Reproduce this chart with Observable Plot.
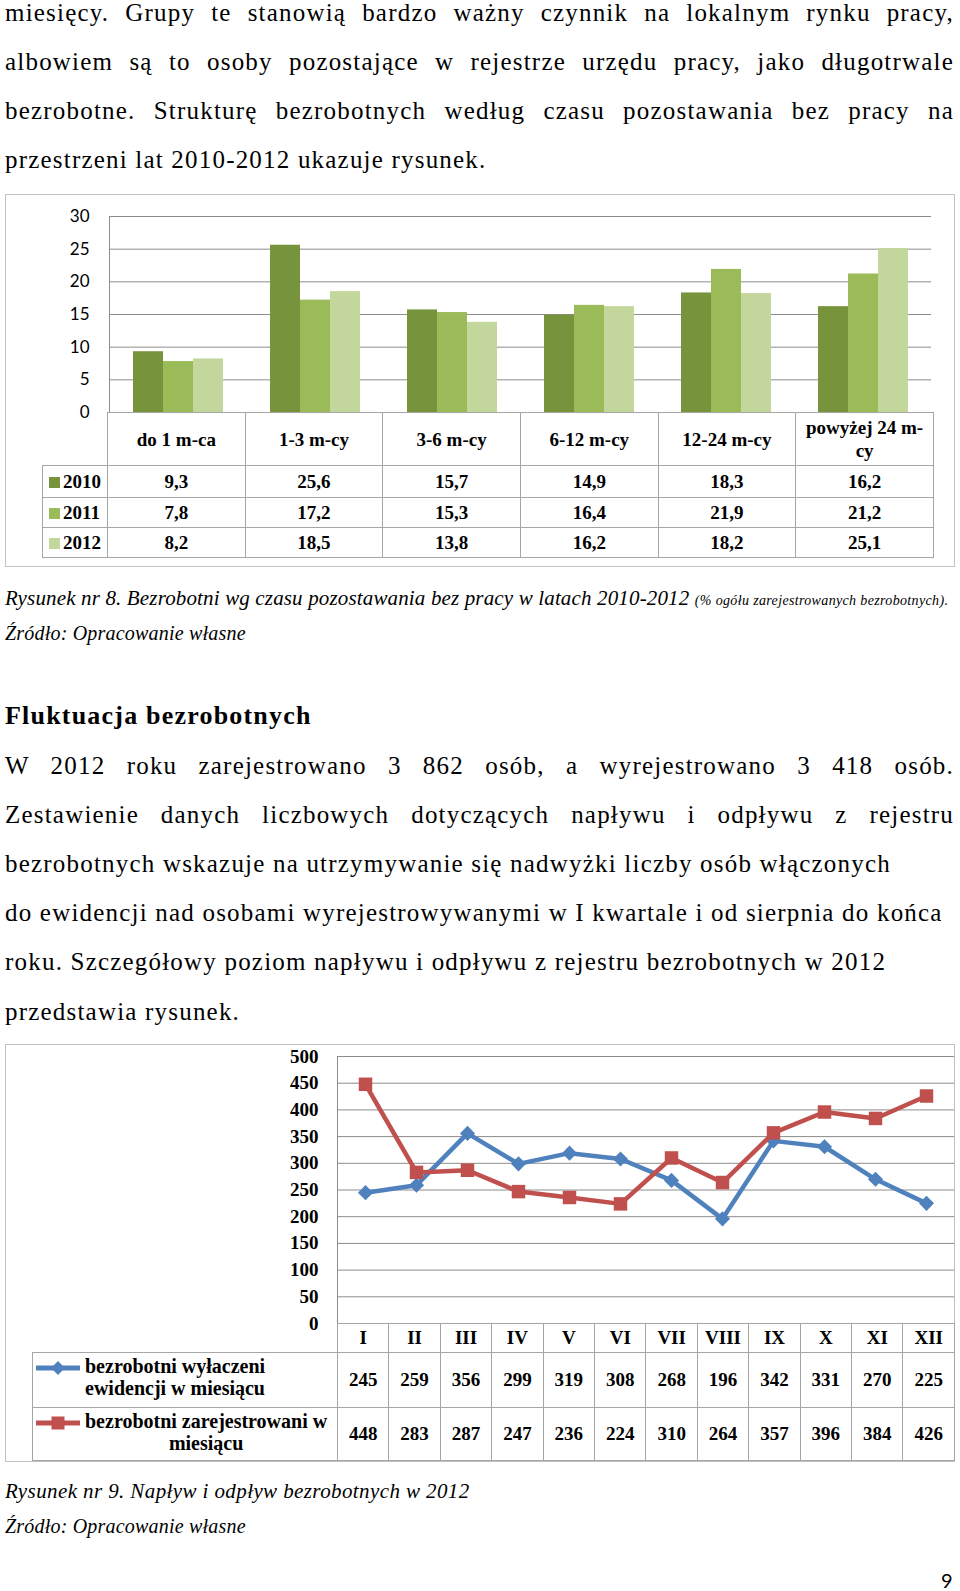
<!DOCTYPE html>
<html><head><meta charset="utf-8">
<script src="https://cdn.jsdelivr.net/npm/d3@7"></script>
<script src="https://cdn.jsdelivr.net/npm/@observablehq/plot@0.6"></script>
<style>
html,body{margin:0;padding:0;background:#fff;}
#page{position:relative;width:960px;height:1591px;overflow:hidden;background:#fff;color:#000;}
.t{position:absolute;white-space:nowrap;font-family:"Liberation Serif",serif;color:#000;}
.j{text-align:justify;text-align-last:justify;white-space:normal;}
.box{position:absolute;border:1.5px solid #c0c0c0;box-sizing:border-box;}
table.dt{position:absolute;border-collapse:collapse;font-family:"Liberation Serif",serif;font-weight:bold;table-layout:fixed;color:#000;}
table.dt td{border:1px solid #a6a6a6;text-align:center;vertical-align:middle;padding:0;overflow:hidden;}
table.dt td.blank{border:none;}
</style></head><body><div id="page"></div>
<script>
// ---------- DATA ----------
const categories = ["do 1 m-ca", "1-3 m-cy", "3-6 m-cy", "6-12 m-cy", "12-24 m-cy", "powyżej 24 m-cy"];
const years = ["2010", "2011", "2012"];
const values2010 = [9.3, 25.6, 15.7, 14.9, 18.3, 16.2];
const values2011 = [7.8, 17.2, 15.3, 16.4, 21.9, 21.2];
const values2012 = [8.2, 18.5, 13.8, 16.2, 18.2, 25.1];
const yearColors = ["#77933C", "#9BBB59", "#C3D69B"];
const yTicks1 = [0, 5, 10, 15, 20, 25, 30];

const months = ["I", "II", "III", "IV", "V", "VI", "VII", "VIII", "IX", "X", "XI", "XII"];
const outflow = [245, 259, 356, 299, 319, 308, 268, 196, 342, 331, 270, 225];
const inflow = [448, 283, 287, 247, 236, 224, 310, 264, 357, 396, 384, 426];
const seriesLabels = [["bezrobotni wyłaczeni", "ewidencji w miesiącu"], ["bezrobotni zarejestrowani w", "miesiącu"]];
const seriesColors = ["#4F81BD", "#C0504D"];
const yTicks2 = [0, 50, 100, 150, 200, 250, 300, 350, 400, 450, 500];

// ---------- PAGE TEXT ----------
const page = document.getElementById("page");
function addLine(text, o) {
  const size = o.size || 25;
  const d = document.createElement("div");
  d.className = "t" + (o.j ? " j" : "");
  d.style.left = (o.x ?? 5) + "px";
  d.style.fontSize = size + "px";
  d.style.lineHeight = size + "px";
  d.style.top = (o.b - 0.8375 * size) + "px";
  d.style.letterSpacing = (o.ls ?? 1.2) + "px";
  if (o.w) d.style.width = o.w + "px";
  if (o.j) d.style.width = (o.w || 949) + "px";
  if (o.style) Object.assign(d.style, o.style);
  if (o.html) d.innerHTML = text; else d.textContent = text;
  page.appendChild(d);
  return d;
}
const bodyLines = [
  ["miesięcy. Grupy te stanowią bardzo ważny czynnik na lokalnym rynku pracy,", 21, true],
  ["albowiem są to osoby pozostające w rejestrze urzędu pracy, jako długotrwale", 70, true],
  ["bezrobotne. Strukturę bezrobotnych według czasu pozostawania bez pracy na", 119, true],
  ["przestrzeni lat 2010-2012 ukazuje rysunek.", 168, false],
  ["W 2012 roku zarejestrowano 3 862 osób, a wyrejestrowano 3 418 osób.", 774, true],
  ["Zestawienie danych liczbowych dotyczących napływu i odpływu z rejestru", 823, true],
  ["bezrobotnych wskazuje na utrzymywanie się nadwyżki liczby osób włączonych", 872, false],
  ["do ewidencji nad osobami wyrejestrowywanymi w I kwartale i od sierpnia do końca", 921, false],
  ["roku. Szczegółowy poziom napływu i odpływu z rejestru bezrobotnych w 2012", 970, false],
  ["przedstawia rysunek.", 1020, false]
];
bodyLines.forEach(([t, b, j]) => addLine(t, {b, j}));
addLine("Fluktuacja bezrobotnych", {b: 725, size: 26, ls: 1.2, style: {fontWeight: "bold"}});
addLine('Rysunek nr 8. Bezrobotni wg czasu pozostawania bez pracy w latach 2010-2012 <span style="font-size:14px;letter-spacing:0.35px">(% ogółu zarejestrowanych bezrobotnych).</span>',
  {b: 606, size: 21, ls: 0.15, html: true, style: {fontStyle: "italic"}});
addLine("Źródło: Opracowanie własne", {b: 640, size: 20, ls: 0.2, style: {fontStyle: "italic"}});
addLine("Rysunek nr 9. Napływ i odpływ bezrobotnych w 2012", {b: 1499, size: 21, ls: 0.4, style: {fontStyle: "italic"}});
addLine("Źródło: Opracowanie własne", {b: 1533, size: 20, ls: 0.2, style: {fontStyle: "italic"}});
const pn = addLine("9", {b: 1588, x: 941, size: 20, ls: 0, style: {fontFamily: "Lato, sans-serif"}});
pn.style.top = (1588 - 0.887 * 20) + "px";

// ---------- CHART 1 ----------
const box1 = {left: 5, top: 194, width: 950, height: 373};
const b1 = document.createElement("div");
b1.className = "box";
Object.assign(b1.style, {left: box1.left + "px", top: box1.top + "px", width: box1.width + "px", height: box1.height + "px"});
page.appendChild(b1);

const seriesByYear = [values2010, values2011, values2012];
const rows1 = [];
years.forEach((yr, i) => categories.forEach((c, j) => rows1.push({cat: c, year: yr, value: seriesByYear[i][j]})));

const chart1 = Plot.plot({
  width: 950, height: 220,
  marginLeft: 102, marginRight: 22, marginTop: 22, marginBottom: 2,
  fx: {domain: categories, padding: 0, axis: null, label: null},
  x: {domain: years, paddingInner: 0, paddingOuter: 0.76, axis: null},
  y: {domain: [0, 30], axis: null},
  color: {domain: years, range: yearColors},
  style: {fontFamily: "Lato, sans-serif", fontSize: "17px", color: "#000", background: "transparent", overflow: "visible"},
  marks: [
    Plot.ruleY(yTicks1, {y: d => d, stroke: "#8c8c8c", strokeWidth: 1}),
    Plot.frame({anchor: "left", facetAnchor: "left", stroke: "#8c8c8c", strokeWidth: 1}),
    Plot.barY(rows1, {fx: "cat", x: "year", y: "value", fill: "year"}),
    Plot.axisY(yTicks1, {tickSize: 0, tickPadding: 20, label: null, fontSize: 17, fill: "#000"})
  ]
});
chart1.style.position = "absolute";
chart1.style.left = box1.left + "px";
chart1.style.top = box1.top + "px";
page.appendChild(chart1);

// table under chart 1, columns taken from the fx scale
const fx1 = chart1.scale("fx");
const r1 = (fx1 && fx1.range) ? fx1.range : [102, 928];
const bw1 = (r1[1] - r1[0]) / categories.length;
const legW1 = 65;
const t1 = document.createElement("table");
t1.className = "dt";
t1.style.left = (box1.left + r1[0] - legW1) + "px";
t1.style.top = (box1.top + 218) + "px";
t1.style.width = (legW1 + bw1 * categories.length) + "px";
let h1 = `<colgroup><col style="width:${legW1}px">` + categories.map(() => `<col style="width:${bw1}px">`).join("") + `</colgroup>`;
h1 += `<tr style="height:53px"><td class="blank"></td>` + categories.map(c => `<td style="font-size:19px;line-height:23px;padding:0 7px">${c}</td>`).join("") + `</tr>`;
years.forEach((yr, i) => {
  h1 += `<tr style="height:${i === 0 ? 32 : 30}px"><td style="text-align:left;padding-left:6px;font-size:19px;white-space:nowrap"><span style="display:inline-block;width:11px;height:11px;background:${yearColors[i]};margin-right:3px;vertical-align:0px"></span>${yr}</td>` +
    seriesByYear[i].map(v => `<td style="font-size:19px">${v.toFixed(1).replace(".", ",")}</td>`).join("") + `</tr>`;
});
t1.innerHTML = h1;
page.appendChild(t1);

// ---------- CHART 2 ----------
const box2 = {left: 5, top: 1044, width: 950, height: 418};
const b2 = document.createElement("div");
b2.className = "box";
Object.assign(b2.style, {left: box2.left + "px", top: box2.top + "px", width: box2.width + "px", height: box2.height + "px"});
page.appendChild(b2);

const rowsOut = months.map((m, i) => ({m, v: outflow[i]}));
const rowsIn = months.map((m, i) => ({m, v: inflow[i]}));
const chart2 = Plot.plot({
  width: 950, height: 281,
  marginLeft: 332, marginRight: 1, marginTop: 12, marginBottom: 2,
  x: {type: "point", domain: months, padding: 0.5, axis: null},
  y: {domain: [0, 500], axis: null},
  style: {fontFamily: "'Liberation Serif', serif", fontSize: "19px", fontWeight: "bold", color: "#000", background: "transparent", overflow: "visible"},
  marks: [
    Plot.ruleY(yTicks2, {y: d => d, stroke: "#8c8c8c", strokeWidth: 1}),
    Plot.frame({anchor: "left", stroke: "#8c8c8c", strokeWidth: 1}),
    Plot.line(rowsOut, {x: "m", y: "v", stroke: seriesColors[0], strokeWidth: 4.5, strokeLinejoin: "round"}),
    Plot.dot(rowsOut, {x: "m", y: "v", symbol: "diamond2", r: 6.8, fill: seriesColors[0], stroke: "none"}),
    Plot.line(rowsIn, {x: "m", y: "v", stroke: seriesColors[1], strokeWidth: 4.5, strokeLinejoin: "round"}),
    Plot.dot(rowsIn, {x: "m", y: "v", symbol: "square", r: 7.6, fill: seriesColors[1], stroke: "none"}),
    Plot.axisY(yTicks2, {tickSize: 0, tickPadding: 19, label: null, fontSize: 19, fontWeight: "bold", fill: "#000"})
  ]
});
chart2.style.position = "absolute";
chart2.style.left = box2.left + "px";
chart2.style.top = box2.top + "px";
page.appendChild(chart2);

const x2 = chart2.scale("x");
const r2 = (x2 && x2.range) ? x2.range : [332, 949];
const step2 = (r2[1] - r2[0]) / months.length;
const legW2 = 305;
function legendSym(i) {
  const c = seriesColors[i];
  const mk = i === 0
    ? `<path d="M23,1 L30,8 L23,15 L16,8 Z" fill="${c}"/>`
    : `<rect x="16.5" y="1.5" width="13" height="13" fill="${c}"/>`;
  return `<svg width="46" height="16" style="flex:none;margin-top:5px"><line x1="1" y1="8" x2="45" y2="8" stroke="${c}" stroke-width="5"/>${mk}</svg>`;
}
const t2 = document.createElement("table");
t2.className = "dt";
t2.style.left = (box2.left + r2[0] - legW2) + "px";
t2.style.top = (box2.top + 279) + "px";
t2.style.width = (legW2 + step2 * months.length) + "px";
let h2 = `<colgroup><col style="width:${legW2}px">` + months.map(() => `<col style="width:${step2}px">`).join("") + `</colgroup>`;
h2 += `<tr style="height:29px"><td class="blank"></td>` + months.map(m => `<td style="font-size:19px">${m}</td>`).join("") + `</tr>`;
[outflow, inflow].forEach((vals, i) => {
  h2 += `<tr style="height:${i === 0 ? 55 : 53}px"><td style="text-align:left;vertical-align:top;padding:2px 0 0 2px">` +
    `<div style="display:flex;align-items:flex-start;gap:4px">${legendSym(i)}<div style="font-size:20px;line-height:22px;text-align:${i === 0 ? "left" : "center"};white-space:nowrap">${seriesLabels[i][0]}<br>${seriesLabels[i][1]}</div></div></td>` +
    vals.map(v => `<td style="font-size:19px">${v}</td>`).join("") + `</tr>`;
});
t2.innerHTML = h2;
page.appendChild(t2);
</script></body></html>
